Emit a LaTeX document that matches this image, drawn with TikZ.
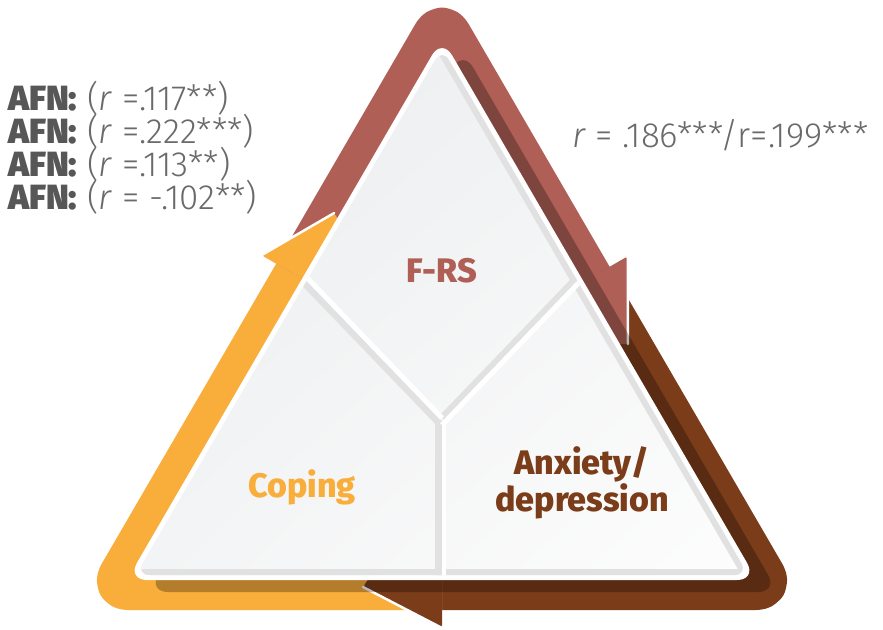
\documentclass[tikz,border=0pt]{standalone}
\usepackage{fontspec}
\setmainfont{Fira Sans}
\newfontfamily\lightfont{Fira Sans Light}
\newfontfamily\heavyfont{Fira Sans ExtraBold}
\newfontfamily\blackfont{Fira Sans Black}
\usetikzlibrary{calc,shadings}

\definecolor{frsred}{HTML}{B05F57}
\definecolor{anxbrown}{HTML}{7B3C1A}
\definecolor{copeorange}{HTML}{F9AE3C}
\definecolor{paneltop}{HTML}{EAECED}
\definecolor{panelmid}{HTML}{F3F4F5}
\definecolor{panellow}{HTML}{FDFDFD}
\definecolor{bevelgray}{HTML}{E1E1E1}
\definecolor{labelgray}{HTML}{575757}
\definecolor{numgray}{HTML}{6A6A6A}

\tikzset{
  band/.style={line width=44pt, rounded corners=15pt, line join=round},
  head/.style={rounded corners=3pt},
  edgeline/.style={white, line width=2.5pt, line cap=round},
  label/.style={font=\heavyfont\fontsize{34}{34}\selectfont, align=center, inner sep=0pt},
  stat/.style={font=\lightfont\fontsize{35}{35}\selectfont, text=numgray, anchor=base west,
    inner sep=0pt, text height=24pt, text depth=7pt},
}
\newcommand{\afn}{{\blackfont\color{labelgray}AFN:}}

\begin{document}
\begin{tikzpicture}[x=1pt, y=-1pt]
\useasboundingbox (0,0) rectangle (883,629);
\fill[white] (0,0) rectangle (883,629);

% corners of the panel
\coordinate (A) at (442,38);
\coordinate (B) at (127,580);
\coordinate (C) at (757,580);

% where the three bands meet
\coordinate (redstart) at (295.1,274.9);
\coordinate (brownstart) at (590.6,277.8);
\coordinate (orangestart) at (442,588);

% band bodies
\draw[band, frsred] (redstart) -- (442,22) -- (brownstart);
\draw[band, anxbrown] (brownstart) -- (770.9,588) -- (orangestart);
\draw[band, copeorange] (orangestart) -- (113.1,588) -- (redstart);

% arrow heads
\fill[head, frsred] (567.3,291.2) -- (627.9,256.2) -- (627.8,344.0) -- (598.3,344.9) -- cycle;
\draw[edgeline] (627.9,256.2) -- (627.8,344.0);
\fill[head, anxbrown] (442,566) -- (442,628) -- (363,587) -- (377,566) -- cycle;
\draw[edgeline] (442,628) -- (363,587);
\fill[head, copeorange] (318.5,288.2) -- (261.4,255.2) -- (334.2,213.0) -- (348.5,236.2) -- cycle;
\draw[edgeline] (261.4,255.2) -- (334.2,213.0);

% shadow of the panel
\fill[black, opacity=.28, rounded corners=20pt] (463,50) -- (148,592) -- (778,592) -- cycle;

% panel
\fill[white, rounded corners=20pt] (A) -- (B) -- (C) -- cycle;
\begin{scope}
  \clip[rounded corners=14pt] (442,48) -- (135.7,575) -- (748.3,575) -- cycle;
  \shade[upper left=paneltop, upper right=panelmid, lower left=panelmid, lower right=panellow]
    (135.7,48) rectangle (748.3,575);
  \draw[bevelgray, line width=12pt, line join=round] (442,48) -- (748.3,575) -- (135.7,575);
  % dividers
  \draw[bevelgray, line width=7pt] (442,426) -- (290,268);
  \draw[bevelgray, line width=7pt] (442,418) -- (594,260);
  \draw[bevelgray, line width=7pt] (438,420) -- (438,580);
  \draw[white, line width=5pt] (442,418) -- (290,260);
  \draw[white, line width=5pt] (442,425) -- (594,267);
  \draw[white, line width=4pt] (444,423) -- (444,580);
\end{scope}

% labels
\node[label, text=frsred] (frs) at (442,271) {F-RS};
\node[label, text=copeorange] (coping) at (302,487) {Coping};
\node[label, text=anxbrown] (anxiety) at (582,483) {Anxiety/\\depression};

\node[stat] (afn1) at (8,110) {\afn{} (\textit{r} =.117**)};
\node[stat] (afn2) at (8,143) {\afn{} (\textit{r} =.222***)};
\node[stat] (afn3) at (8,176) {\afn{} (\textit{r} =.113**)};
\node[stat] (afn4) at (8,209) {\afn{} (\textit{r} = -.102**)};
\node[stat] (rstat) at (572,147) {\textit{r} = .186***/r=.199***};
\end{tikzpicture}
\end{document}
